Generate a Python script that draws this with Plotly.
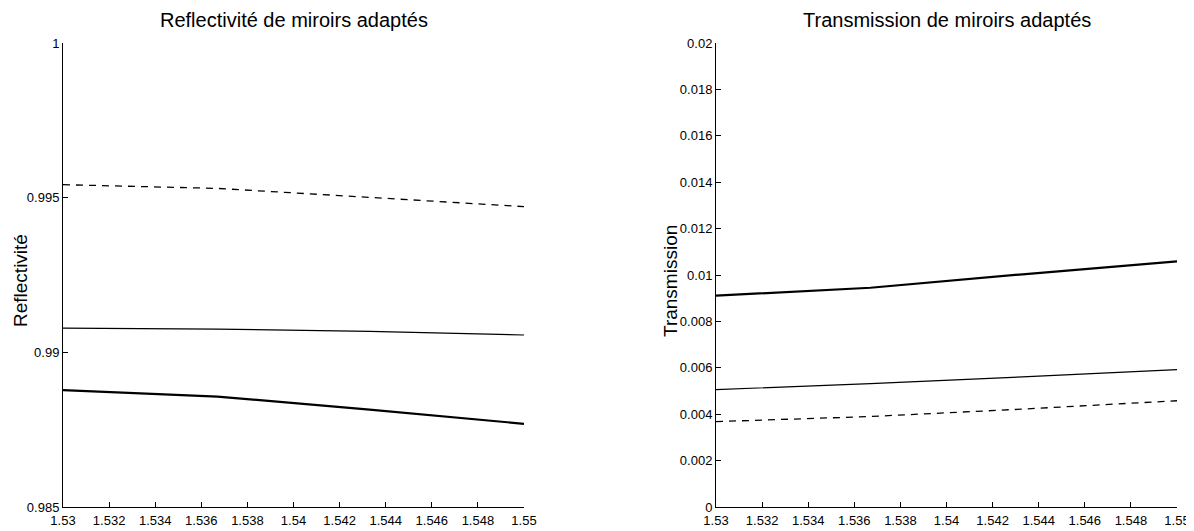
import plotly.graph_objects as go

# Longueur d'onde (um)
wavelength = [1.53, 1.5367, 1.5433, 1.55]

# Reflectivité
refl_dashed = [0.99542, 0.99530, 0.99501, 0.99471]
refl_thin = [0.99078, 0.99075, 0.99068, 0.99056]
refl_thick = [0.98878, 0.98857, 0.98815, 0.98769]

# Transmission
trans_thick = [0.00911, 0.00945, 0.01003, 0.01059]
trans_thin = [0.00506, 0.00532, 0.00561, 0.00592]
trans_dashed = [0.00368, 0.00390, 0.00422, 0.00458]

x_ticks = [1.53, 1.532, 1.534, 1.536, 1.538, 1.54, 1.542, 1.544, 1.546, 1.548, 1.55]
x_ticktext = ["1.53", "1.532", "1.534", "1.536", "1.538", "1.54", "1.542", "1.544", "1.546", "1.548", "1.55"]
refl_ticks = [0.985, 0.99, 0.995, 1.0]
refl_ticktext = ["0.985", "0.99", "0.995", "1"]
trans_ticks = [0, 0.002, 0.004, 0.006, 0.008, 0.01, 0.012, 0.014, 0.016, 0.018, 0.02]
trans_ticktext = ["0", "0.002", "0.004", "0.006", "0.008", "0.01", "0.012", "0.014", "0.016", "0.018", "0.02"]

NARROW = "Liberation Sans Narrow, Arial Narrow, Liberation Sans, sans-serif"
SANS = "Liberation Sans, Arial, sans-serif"

# the page body has an 8px margin, so the figure is shrunk and shifted by it
OFF = 8
W, H = 1194 - OFF, 531 - OFF


def px(x):
    return (x - OFF) / W


def py(y):
    return 1 - (y - OFF) / H


fig = go.Figure()

thick = dict(color="black", width=2.2)
thin = dict(color="black", width=1.2)
dashed = dict(color="black", width=1.3, dash="7px,6px")

for y, line in [(refl_dashed, dashed), (refl_thin, thin), (refl_thick, thick)]:
    fig.add_trace(go.Scatter(x=wavelength, y=y, mode="lines", line=line,
                             xaxis="x", yaxis="y", showlegend=False, hoverinfo="skip"))
for y, line in [(trans_thick, thick), (trans_thin, thin), (trans_dashed, dashed)]:
    fig.add_trace(go.Scatter(x=wavelength, y=y, mode="lines", line=line,
                             xaxis="x2", yaxis="y2", showlegend=False, hoverinfo="skip"))

axis_style = dict(
    showline=True, linecolor="black", linewidth=1,
    ticks="inside", ticklen=5, tickcolor="black", tickwidth=1,
    showgrid=False, zeroline=False, mirror=False, automargin=False,
    tickfont=dict(family=NARROW, size=13, color="black"),
)

y_dom = [py(507), py(43)]

fig.update_layout(
    width=W, height=H,
    margin=dict(l=0, r=0, t=0, b=0),
    paper_bgcolor="white", plot_bgcolor="white",
    xaxis=dict(domain=[px(63), px(524)], range=[1.53, 1.55], ticklabelstandoff=1,
               tickvals=x_ticks, ticktext=x_ticktext, anchor="y", **axis_style),
    yaxis=dict(domain=y_dom, range=[0.985, 1.0],
               tickvals=refl_ticks, ticktext=refl_ticktext, anchor="x", **axis_style),
    xaxis2=dict(domain=[px(716), px(1177)], range=[1.53, 1.55], ticklabelstandoff=1,
                tickvals=x_ticks, ticktext=x_ticktext, anchor="y2", **axis_style),
    yaxis2=dict(domain=y_dom, range=[0, 0.02],
                tickvals=trans_ticks, ticktext=trans_ticktext, anchor="x2", **axis_style),
    annotations=[
        dict(text="Reflectivité de miroirs adaptés", x=px((63 + 524) / 2), y=py(20),
             xref="paper", yref="paper", showarrow=False, xanchor="center", yanchor="middle",
             font=dict(family=NARROW, size=20, color="black")),
        dict(text="Transmission de miroirs adaptés", x=px((716 + 1177) / 2), y=py(20),
             xref="paper", yref="paper", showarrow=False, xanchor="center", yanchor="middle",
             font=dict(family=NARROW, size=20, color="black")),
        dict(text="Reflectivité", x=px(20), y=py(281), textangle=-90,
             xref="paper", yref="paper", showarrow=False, xanchor="center", yanchor="middle",
             font=dict(family=SANS, size=19, color="black")),
        dict(text="Transmission", x=px(670), y=py(281), textangle=-90,
             xref="paper", yref="paper", showarrow=False, xanchor="center", yanchor="middle",
             font=dict(family=SANS, size=19, color="black")),
    ],
)

fig.write_html("out.html")
